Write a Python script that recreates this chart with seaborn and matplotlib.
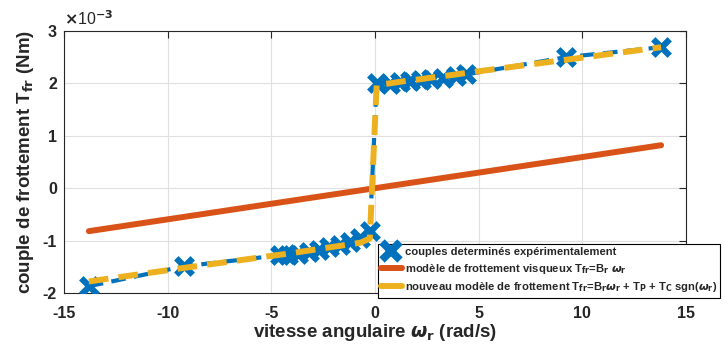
import matplotlib
matplotlib.use("Agg")
import matplotlib.pyplot as plt
from matplotlib.lines import Line2D
import seaborn as sns
import pandas as pd

# vitesse angulaire (rad/s) et couple mesure (x1e-3 Nm)
omega = [-13.8, -9.2, -4.6, -4.2, -3.7, -3.2, -2.7, -2.2, -1.7, -1.2, -0.7, -0.25,
         0.08, 0.7, 1.2, 1.7, 2.2, 2.7, 3.3, 3.9, 4.4, 9.2, 13.8]
couple_exp = [-1.87, -1.49, -1.28, -1.27, -1.25, -1.22, -1.18, -1.13, -1.08, -1.02, -0.95, -0.82,
              2.0, 1.99, 2.02, 2.04, 2.06, 2.09, 2.11, 2.14, 2.17, 2.5, 2.69]
couple_nouveau = [-1.78, -1.52, -1.27, -1.25, -1.22, -1.19, -1.16, -1.13, -1.10, -1.07, -1.04, -0.96,
                  1.97, 2.00, 2.03, 2.06, 2.08, 2.11, 2.14, 2.17, 2.20, 2.45, 2.69]
# modele visqueux
omega_visq = [-13.8, 13.8]
couple_visq = [-0.82, 0.82]

labels = ['couples determinés expérimentalement',
          r'modèle de frottement visqueux T$_{\mathbf{fr}}$=B$_{\mathbf{r}}$ $\omega_{\mathbf{r}}$',
          r'nouveau modèle de frottement T$_{\mathbf{fr}}$=B$_{\mathbf{r}}\omega_{\mathbf{r}}$ + T$_{\mathbf{P}}$ + T$_{\mathbf{C}}$ sgn($\omega_{\mathbf{r}}$)']

df = pd.DataFrame({'omega': omega, 'exp': couple_exp, 'nouveau': couple_nouveau})
df_visq = pd.DataFrame({'omega': omega_visq, 'visq': couple_visq})

bleu, rouge, jaune = '#0072BD', '#D95319', '#EDB120'

sns.set_style('white')
plt.rcParams['font.family'] = ['Liberation Sans', 'DejaVu Sans']
plt.rcParams['font.weight'] = 'bold'
plt.rcParams['axes.labelweight'] = 'bold'
plt.rcParams['axes.unicode_minus'] = False

fig = plt.figure(figsize=(7.24, 3.52), dpi=100)
ax = fig.add_axes([0.0884, 0.1676, 0.8591, 0.7444])

sns.lineplot(data=df, x='omega', y='exp', sort=False, color=bleu, linewidth=3,
             dashes=False, linestyle=(0, (3.5, 2)), ax=ax)
sns.scatterplot(data=df, x='omega', y='exp', color=bleu, marker='x', s=140,
                linewidths=4.5, zorder=3, ax=ax)
sns.lineplot(data=df_visq, x='omega', y='visq', sort=False, color=rouge, linewidth=4.3, ax=ax)
sns.lineplot(data=df, x='omega', y='nouveau', sort=False, color=jaune, linewidth=4.3,
             dashes=False, linestyle=(0, (3.3, 1.7)), zorder=4, ax=ax)

ax.set_xlim(-15, 15)
ax.set_ylim(-2, 3)
ax.set_xticks([-15, -10, -5, 0, 5, 10, 15])
ax.set_yticks([-2, -1, 0, 1, 2, 3])
ax.grid(True, color='#e0e0e0', linewidth=0.8)
ax.tick_params(direction='in', top=True, right=True, labelsize=11.5, length=5, width=0.8,
               colors='#262626')
ax.tick_params(axis='x', pad=9)
ax.tick_params(axis='y', pad=5)
for s in ax.spines.values():
    s.set_color('#262626')
    s.set_linewidth(0.8)
for t in ax.get_xticklabels() + ax.get_yticklabels():
    t.set_fontweight('bold')
ax.text(0.0, 1.01, r'$\times$10$^{-3}$', transform=ax.transAxes, fontsize=11.5,
        fontweight='normal', ha='left', va='bottom', color='#262626')

ax.set_xlabel(r'vitesse angulaire $\omega_{\mathbf{r}}$ (rad/s)', fontsize=13.5, fontweight='bold',
              color='#262626', labelpad=1)
ax.set_ylabel(r'couple de frottement T$_{\mathbf{fr}}$ (Nm)', fontsize=13.5, fontweight='bold',
              color='#262626', labelpad=5)

handles = [Line2D([], [], color=bleu, marker='x', markersize=13, markeredgewidth=5.5, linestyle='none'),
           Line2D([], [], color=rouge, linewidth=4.3),
           Line2D([], [], color=jaune, linewidth=4.3)]
leg = fig.legend(handles, labels, loc='upper left', bbox_to_anchor=(0.522, 0.307),
                 frameon=True, fancybox=False, edgecolor='black', framealpha=1,
                 handlelength=1.8, handletextpad=0.3, borderpad=0.3, labelspacing=0.4,
                 borderaxespad=0, prop={'weight': 'bold', 'size': 8.1})
leg.get_frame().set_linewidth(0.8)
leg.set_zorder(10)

plt.savefig('out.png', dpi=100)
